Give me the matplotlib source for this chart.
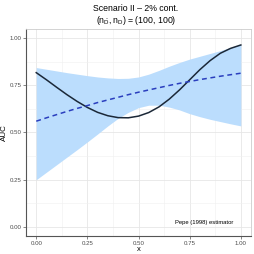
import matplotlib
matplotlib.use("Agg")
import matplotlib.pyplot as plt

plt.rcParams['font.family'] = ['Liberation Sans', 'DejaVu Sans']
plt.rcParams['mathtext.fontset'] = 'custom'
plt.rcParams['mathtext.rm'] = 'Liberation Sans'
plt.rcParams['mathtext.it'] = 'Liberation Sans'

# at steps of 0.05
x = [0.00, 0.05, 0.10, 0.15, 0.20, 0.25, 0.30, 0.35, 0.40, 0.45, 0.50,
     0.55, 0.60, 0.65, 0.70, 0.75, 0.80, 0.85, 0.90, 0.95, 1.00]
auc_true = [0.818, 0.780, 0.740, 0.701, 0.665, 0.633, 0.607, 0.589, 0.579, 0.578, 0.587,
            0.606, 0.636, 0.677, 0.726, 0.780, 0.834, 0.882, 0.921, 0.947, 0.965]
auc_est = [0.560, 0.578, 0.595, 0.612, 0.628, 0.643, 0.659, 0.673, 0.687, 0.701, 0.714,
           0.726, 0.738, 0.750, 0.761, 0.771, 0.781, 0.790, 0.799, 0.807, 0.815]
band_hi = [0.845, 0.836, 0.827, 0.818, 0.810, 0.802, 0.795, 0.790, 0.787, 0.788, 0.795,
           0.810, 0.830, 0.852, 0.872, 0.890, 0.905, 0.920, 0.935, 0.952, 0.968]
band_lo = [0.249, 0.289, 0.329, 0.369, 0.409, 0.450, 0.492, 0.535, 0.575, 0.607, 0.632,
           0.645, 0.645, 0.635, 0.620, 0.600, 0.584, 0.570, 0.558, 0.546, 0.535]
ticks = [0.00, 0.25, 0.50, 0.75, 1.00]
tick_labels = ["0.00", "0.25", "0.50", "0.75", "1.00"]

fig = plt.figure(figsize=(2.54, 2.54), dpi=100)
ax = fig.add_axes([0.1024, 0.0709, 0.886, 0.815])

ax.fill_between(x, band_lo, band_hi, color='#BBDDFD', lw=0, zorder=2)
ax.plot(x, auc_true, color='#1B2838', lw=1.1, zorder=3)
ax.plot(x, auc_est, color='#2A3EBE', lw=1.1, dashes=(3.2, 2.4), zorder=4)

ax.set_xlim(-0.05, 1.05)
ax.set_ylim(-0.05, 1.05)
ax.set_xticks(ticks)
ax.set_xticklabels(tick_labels)
ax.set_yticks(ticks)
ax.set_yticklabels(tick_labels)
ax.set_xticks([0.125, 0.375, 0.625, 0.875], minor=True)
ax.set_yticks([0.125, 0.375, 0.625, 0.875], minor=True)
ax.grid(which='major', color='#E6E6E6', lw=0.6, zorder=0)
ax.grid(which='minor', color='#F0F0F0', lw=0.4, zorder=0)
ax.set_axisbelow(True)
ax.tick_params(which='major', length=2, width=0.5, color='#555555',
               labelsize=4.4, labelcolor='#4D4D4D', pad=1.3)
ax.tick_params(which='minor', length=0)

for s in ['top', 'right']:
    ax.spines[s].set_color('#CCCCCC')
    ax.spines[s].set_linewidth(0.6)
for s in ['left', 'bottom']:
    ax.spines[s].set_color('#555555')
    ax.spines[s].set_linewidth(0.8)

ax.set_xlabel('x', fontsize=5.5, labelpad=0.5)
ax.set_ylabel('AUC', fontsize=5.8)
ax.yaxis.set_label_coords(-0.08, 0.5)

ax.text(0.82, 0.022, 'Pepe (1998) estimator', fontsize=4.2, ha='center', va='center')

fig.text(0.535, 0.968, 'Scenario II \u2013 2% cont.', fontsize=6.3, ha='center', va='center')
fig.text(0.535, 0.92, r'$(\mathregular{n_{\bar{D}}, n_D})$ = (100, 100)', fontsize=6.3,
         ha='center', va='center')

fig.savefig('out.png', dpi=100)
